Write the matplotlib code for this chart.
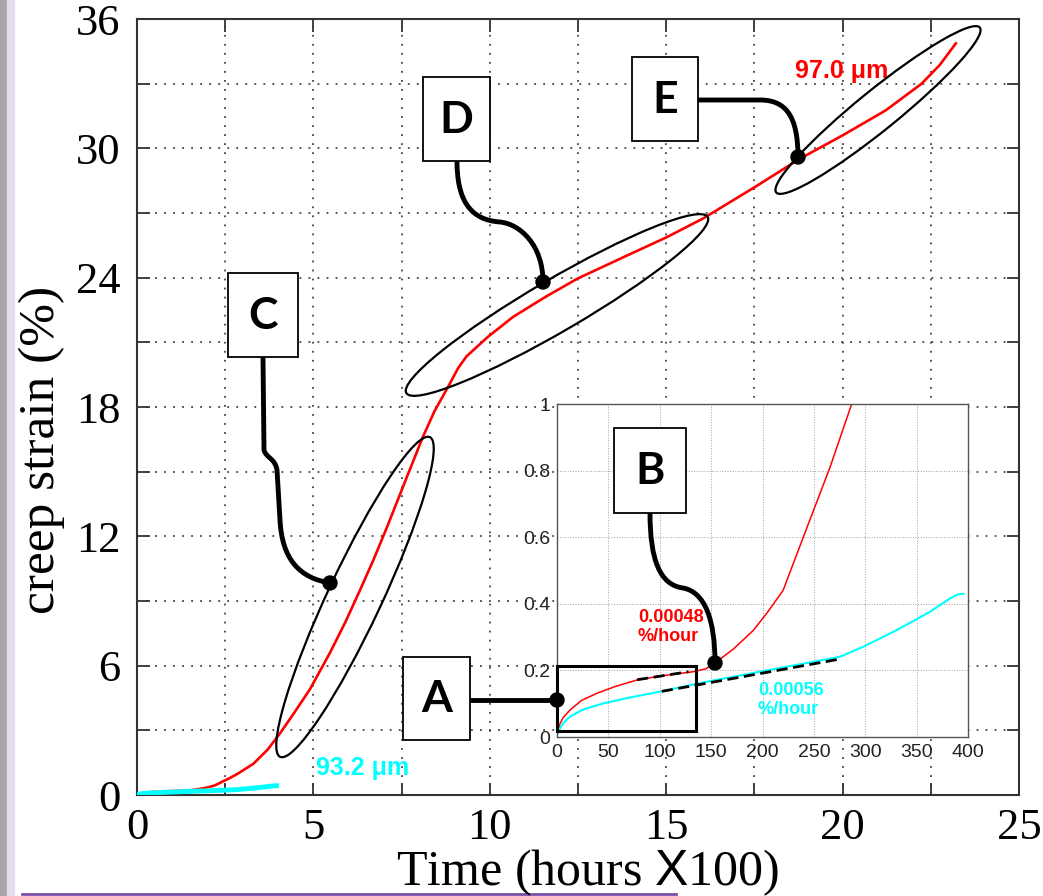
import numpy as np
import matplotlib.pyplot as plt
from matplotlib.patches import Ellipse, Rectangle, Circle, PathPatch
from matplotlib.path import Path
from matplotlib.lines import Line2D
from matplotlib.ticker import MultipleLocator

plt.rcParams['font.family'] = ['Liberation Serif', 'DejaVu Sans']
plt.rcParams['mathtext.fontset'] = 'custom'
plt.rcParams['mathtext.sf'] = 'Liberation Sans'
plt.rcParams['mathtext.rm'] = 'Liberation Serif'

# creep curves: time in hours, strain in %
red_hours = [0.5, 2.9, 6, 12.6, 24, 38.6, 57, 77.6, 100, 132.7, 145, 155.4, 172, 191,
             205, 220, 239.7, 265.7, 286.8, 330, 370, 405, 445, 490, 547, 590, 632,
             670, 708, 754, 810, 843, 884, 910, 934, 995, 1066, 1158, 1249, 1371,
             1503, 1605, 1752, 1879, 2001, 2123, 2224, 2275, 2321]
red_strain = [0.01, 0.04, 0.058, 0.081, 0.11, 0.131, 0.152, 0.171, 0.183, 0.196, 0.205,
              0.226, 0.265, 0.32, 0.375, 0.44, 0.60, 0.81, 1.0, 1.45, 2.1, 2.85, 3.8,
              4.9, 6.6, 8.0, 9.5, 10.9, 12.4, 14.3, 16.6, 17.8, 19.0, 19.8, 20.35,
              21.26, 22.18, 23.11, 23.96, 24.89, 25.89, 26.75, 28.21, 29.52, 30.61,
              31.77, 33.0, 33.86, 34.87]
cyan_hours = [0.5, 1.9, 6, 12.6, 25, 45, 70, 100, 145.7, 197.6, 275.4, 298, 330.6, 363,
              382.5, 390, 395.4]
cyan_strain = [0.01, 0.02, 0.042, 0.061, 0.082, 0.101, 0.118, 0.136, 0.166, 0.196,
               0.241, 0.271, 0.321, 0.376, 0.416, 0.428, 0.43]

# steady-state creep rates (%/hour) and the ranges they were fitted over
red_rate = 0.00048
cyan_rate = 0.00056
red_fit_hours = [78, 128]
red_fit_start = 0.172
cyan_fit_hours = [102, 275]
cyan_fit_start = 0.137

red_label = '97.0 \u03bcm'
cyan_label = '93.2 \u03bcm'

main_xticks = [0, 5, 10, 15, 20, 25]
main_yticks = [0, 6, 12, 18, 24, 30, 36]
inset_xticks = [0, 50, 100, 150, 200, 250, 300, 350, 400]
inset_yticks = [0, 0.2, 0.4, 0.6, 0.8, 1.0]
inset_yticklabels = ['0', '0.2', '0.4', '0.6', '0.8', '1']

W, H = 1043, 896
fig = plt.figure(figsize=(W / 100, H / 100), dpi=100)


def px_box(l, t, r, b):
    return [l / W, 1 - b / H, (r - l) / W, (b - t) / H]


# slide decoration at the left and bottom edge
fig.patches.append(Rectangle((0, 0), 7 / W, 1, transform=fig.transFigure,
                             color='#a6a6a6', zorder=0))
fig.patches.append(Rectangle((7 / W, 0), 7 / W, 1, transform=fig.transFigure,
                             color='#e3dbee', zorder=0))
fig.lines.append(Line2D([22 / W, 676 / W], [1 - 894 / H, 1 - 894 / H],
                        transform=fig.transFigure, color='#7b4fa8', lw=2))

# ---- main axes ----
ax = fig.add_axes(px_box(137, 19, 1019, 795))
ax.plot(np.array(red_hours) / 100, red_strain, color='red', lw=1.9, zorder=3)
ax.plot(np.array(cyan_hours) / 100, cyan_strain, color='cyan', lw=3.5, zorder=3)
ax.set_xlim(0, 25)
ax.set_ylim(0, 36)
ax.set_xticks(main_xticks)
ax.set_yticks(main_yticks)
ax.xaxis.set_minor_locator(MultipleLocator(2.5))
ax.yaxis.set_minor_locator(MultipleLocator(3))
ax.tick_params(which='both', direction='in', length=9, width=1.3, top=True,
               right=True, color='#333333')
ax.tick_params(axis='y', labelsize=32, pad=12)
ax.tick_params(axis='x', labelsize=32, pad=9)
ax.grid(True, which='both', linestyle=(0, (1, 4)), lw=1.3, color='#444444')
for s in ax.spines.values():
    s.set_color('#333333')
    s.set_linewidth(1.5)
ax.text(6.38, 1.25, cyan_label, color='cyan', fontsize=18, fontweight='bold',
        family='Liberation Sans', ha='center', va='center')
ax.text(19.98, 33.6, red_label, color='red', fontsize=18, fontweight='bold',
        family='Liberation Sans', ha='center', va='center')

fig.text(588 / W, 1 - 885 / H, 'Time (hours $\\mathsf{X}$100)', fontsize=36,
         ha='center', va='baseline')
fig.text(42 / W, 1 - 450 / H, 'creep strain (%)', fontsize=37, rotation=90,
         ha='center', va='center')

# ---- inset: first 400 hours ----
ins = fig.add_axes(px_box(557, 404, 968, 737), zorder=3)
ins.plot(red_hours, red_strain, color='red', lw=1.1)
ins.plot(cyan_hours, cyan_strain, color='cyan', lw=1.5)
rf = np.array(red_fit_hours)
cf = np.array(cyan_fit_hours)
ins.plot(rf, red_fit_start + red_rate * (rf - rf[0]), color='black', lw=2,
         dashes=(4, 2))
ins.plot(cf, cyan_fit_start + cyan_rate * (cf - cf[0]), color='black', lw=2,
         dashes=(4, 2))
ins.set_xlim(0, 400)
ins.set_ylim(0, 1)
ins.set_xticks(inset_xticks)
ins.set_yticks(inset_yticks)
ins.set_yticklabels(inset_yticklabels)
ins.tick_params(length=0, labelsize=14, labelcolor='#222222', pad=5)
for lab in ins.get_xticklabels() + ins.get_yticklabels():
    lab.set_family('Liberation Sans')
ins.grid(True, linestyle=':', lw=0.7, color='#a0a0a0')
for s in ins.spines.values():
    s.set_color('#555555')
    s.set_linewidth(1)
ins.add_patch(Rectangle((0, 0.019), 135.6, 0.194, fill=False, ec='black',
                        lw=2.2, zorder=4, clip_on=False))
ins.text(78.8, 0.33, '0.00048\n%/hour', color='red', fontsize=13,
         fontweight='bold', family='Liberation Sans', ha='left', va='center')
ins.text(195.6, 0.111, '0.00056\n%/hour', color='cyan', fontsize=13,
         fontweight='bold', family='Liberation Sans', ha='left', va='center')

# ---- callouts, drawn in pixel coordinates on top ----
ov = fig.add_axes([0, 0, 1, 1], zorder=5)
ov.set_xlim(0, W)
ov.set_ylim(H, 0)
ov.set_facecolor('none')
ov.axis('off')

# ellipses around the creep stages: centre, long axis, short axis, tilt
for (cx, cy), a, b, ang in [((355, 597), 353, 54, 64.9),
                            ((557, 305), 349, 52, 30.3),
                            ((878, 110), 262, 40, 39)]:
    ov.add_patch(Ellipse((cx, cy), a, b, angle=-ang, fill=False, ec='black', lw=1.6))

M, L, C = Path.MOVETO, Path.LINETO, Path.CURVE4
leaders = [
    [((470, 700), M), ((557, 700), L)],
    [((650, 513), M), ((650, 560), C), ((660, 585), C), ((683, 588), C),
     ((705, 592), C), ((715, 620), C), ((715, 663), C)],
    [((263, 358), M), ((264, 450), L), ((266, 458), C), ((275, 458), C),
     ((277, 470), C), ((280, 520), L), ((282, 560), C), ((300, 578), C),
     ((330, 583), C)],
    [((457, 161), M), ((457, 200), C), ((470, 220), C), ((500, 222), C),
     ((520, 224), C), ((543, 245), C), ((543, 282), C)],
    [((698, 100), M), ((760, 100), L), ((785, 100), C), ((798, 115), C),
     ((798, 157), C)],
]
for seg in leaders:
    verts = [p for p, _ in seg]
    codes = [c for _, c in seg]
    ov.add_patch(PathPatch(Path(verts, codes), fill=False, ec='black', lw=3.5,
                           capstyle='round'))

for x, y in [(557, 700), (715, 663), (330, 583), (543, 282), (798, 157)]:
    ov.add_patch(Circle((x, y), 7, color='black'))

for name, (l, t, r, b) in {'A': (403, 657, 470, 740), 'B': (614, 428, 686, 513),
                           'C': (228, 273, 298, 357), 'D': (423, 77, 490, 161),
                           'E': (632, 57, 698, 141)}.items():
    ov.add_patch(Rectangle((l, t), r - l, b - t, fc='white', ec='black', lw=1.3))
    ov.text((l + r) / 2, (t + b) / 2 + 1, name, ha='center', va='center',
            fontsize=32, fontweight='bold', family='Lato')

fig.savefig('out.png', dpi=100)
